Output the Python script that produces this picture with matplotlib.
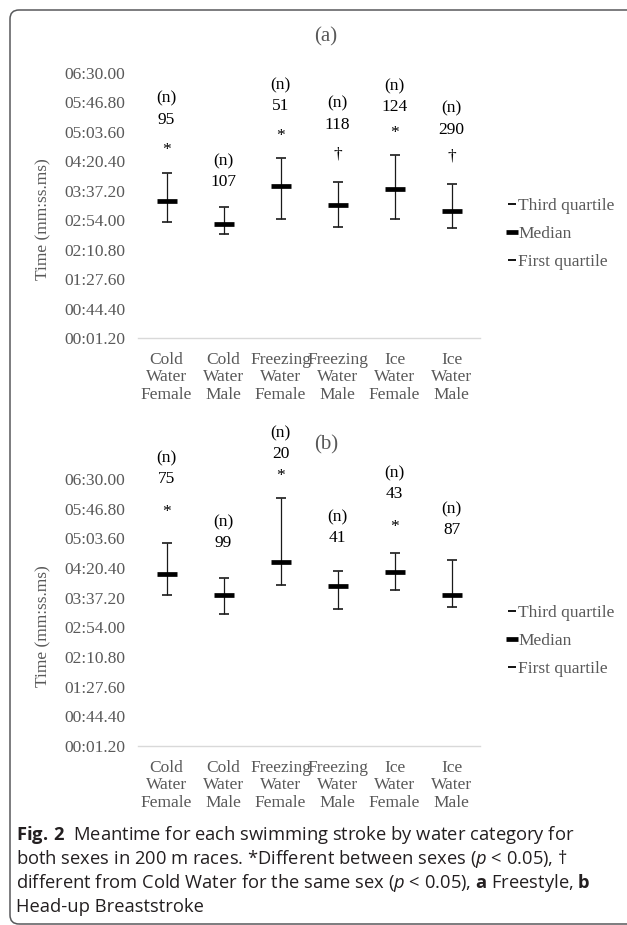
import matplotlib
matplotlib.use("Agg")
import matplotlib.pyplot as plt
from matplotlib.lines import Line2D
from matplotlib.patches import FancyBboxPatch
from matplotlib.transforms import IdentityTransform
import numpy as np

# categories on the x axis
cats = ["Cold\nWater\nFemale", "Cold\nWater\nMale", "Freezing\nWater\nFemale",
        "Freezing\nWater\nMale", "Ice\nWater\nFemale", "Ice\nWater\nMale"]

# (a) freestyle, times in seconds
a_q1 = [172.0, 154.0, 175.8, 164.6, 175.8, 162.5]
a_med = [202.3, 168.3, 223.7, 196.0, 219.8, 188.2]
a_q3 = [243.7, 193.3, 264.6, 230.6, 269.3, 227.5]
a_n = [95, 107, 51, 118, 124, 290]
a_sig = ["*", "", "*", "\u2020", "*", "\u2020"]

# (b) head-up breaststroke, times in seconds
b_q1 = [220.9, 193.2, 235.0, 201.4, 228.2, 203.4]
b_med = [251.5, 220.9, 268.5, 234.0, 254.9, 221.8]
b_q3 = [296.2, 245.7, 362.3, 255.9, 281.6, 271.4]
b_n = [75, 99, 20, 41, 43, 87]
b_sig = ["*", "", "*", "", "*", ""]

yticks = [1.2 + 43.2 * k for k in range(10)]

# label placement above the whisker (pixels), hand placed like the original
a_cnt_off = [53, 25, 52, 57, 48, 54]
a_sig_off = [23, 0, 22, 27, 22, 27]
b_cnt_off = [64, 35, 44, 33, 59, 30]
b_sig_off = [31, 0, 22, 0, 26, 0]

SERIF = "Liberation Serif"
GREY = "#595959"
W, H = 627, 925

plt.rcParams["mathtext.fontset"] = "custom"
plt.rcParams["mathtext.rm"] = "Open Sans"
plt.rcParams["mathtext.bf"] = "Open Sans:bold"
plt.rcParams["mathtext.it"] = "Open Sans:italic"


def mmss(v, pos=None):
    c = int(round(v * 100))
    m = c // 6000
    r = c % 6000
    return "%02d:%02d.%02d" % (m, r // 100, r % 100)


def px_rect(left, top, right, bottom):
    return [left / W, 1 - bottom / H, (right - left) / W, (bottom - top) / H]


def draw_panel(ax, q1, med, q3, n, sig, cnt_off, sig_off):
    x = np.arange(len(cats))
    q1 = np.array(q1); med = np.array(med); q3 = np.array(q3)
    ax.errorbar(x, med, yerr=[med - q1, q3 - med], fmt="none", ecolor="#1a1a1a",
                elinewidth=0.9, capsize=3.3, capthick=1.2)
    ax.plot(x, med, ls="none", marker="_", ms=15, mew=3.4, color="black")

    for i in range(len(x)):
        ax.annotate(str(n[i]), (x[i], q3[i]), xytext=(0, cnt_off[i]),
                    textcoords="offset pixels", ha="center", va="center",
                    fontsize=12.5, family=SERIF, annotation_clip=False)
        ax.annotate("(n)", (x[i], q3[i]), xytext=(0, cnt_off[i] + 21),
                    textcoords="offset pixels", ha="center", va="center",
                    fontsize=12.5, family=SERIF, annotation_clip=False)
        if sig[i]:
            ax.annotate(sig[i], (x[i], q3[i]), xytext=(0, sig_off[i]),
                        textcoords="offset pixels", ha="center", va="center",
                        fontsize=12.5, family=SERIF, annotation_clip=False)

    ax.set_xlim(-0.5, len(cats) - 0.5)
    ax.set_ylim(yticks[0], yticks[-1])
    ax.set_yticks(yticks)
    ax.yaxis.set_major_formatter(plt.FuncFormatter(mmss))
    ax.set_xticks(x)
    ax.set_xticklabels(cats, linespacing=1.12)
    for s in ["top", "right", "left"]:
        ax.spines[s].set_visible(False)
    ax.spines["bottom"].set_color("#d9d9d9")
    ax.spines["bottom"].set_linewidth(1.0)
    ax.tick_params(axis="y", length=0, pad=9, labelsize=12.5, labelcolor=GREY)
    ax.tick_params(axis="x", length=0, pad=10, labelsize=12.5, labelcolor=GREY)
    for t in ax.get_xticklabels() + ax.get_yticklabels():
        t.set_family(SERIF)
    ax.set_ylabel("Time (mm:ss.ms)", family=SERIF, fontsize=12.5, color=GREY)
    ax.yaxis.set_label_coords(-0.254, 0.45)

    handles = [Line2D([], [], ls="none", marker="_", ms=6, mew=1.3, color="black"),
               Line2D([], [], ls="none", marker="_", ms=8, mew=3.4, color="black"),
               Line2D([], [], ls="none", marker="_", ms=6, mew=1.3, color="black")]
    leg = ax.legend(handles, ["Third quartile", "Median", "First quartile"],
                    loc="center left", bbox_to_anchor=(1.055, 0.392), frameon=False,
                    numpoints=1, handlelength=0.5, handletextpad=0.12,
                    labelspacing=0.68, borderpad=0,
                    prop={"family": SERIF, "size": 12.5})
    for t in leg.get_texts():
        t.set_color(GREY)


fig = plt.figure(figsize=(W / 100, H / 100), dpi=100)

ax_a = fig.add_axes(px_rect(138, 73, 480, 338))
draw_panel(ax_a, a_q1, a_med, a_q3, a_n, a_sig, a_cnt_off, a_sig_off)
ax_b = fig.add_axes(px_rect(138, 479, 480, 746))
draw_panel(ax_b, b_q1, b_med, b_q3, b_n, b_sig, b_cnt_off, b_sig_off)

fig.text(326 / W, 1 - 37 / H, "(a)", ha="center", va="center", family=SERIF,
         fontsize=15, color=GREY)
fig.text(326 / W, 1 - 445 / H, "(b)", ha="center", va="center", family=SERIF,
         fontsize=15, color=GREY)

# caption
caption = [r"$\mathbf{Fig.\,2}$  Meantime for each swimming stroke by water category for",
           r"both sexes in 200 m races. *Different between sexes ($\mathit{p}$ < 0.05), " + "\u2020",
           r"different from Cold Water for the same sex ($\mathit{p}$ < 0.05), $\mathbf{a}$ Freestyle, $\mathbf{b}$",
           "Head-up Breaststroke"]
cap_y = [835, 859, 883, 907]
for line, yy in zip(caption, cap_y):
    fig.text(16 / W, 1 - yy / H, line, ha="left", va="center", family="Open Sans",
             fontsize=13.2, color="#231f20")

# frame round the figure, its right edge runs off the picture
frame = FancyBboxPatch((10, 1), 660, H - 11,
                       boxstyle="round,pad=0,rounding_size=9",
                       transform=IdentityTransform(), fill=False,
                       edgecolor="#58595b", linewidth=1.1, clip_on=False)
fig.patches.append(frame)

fig.savefig("out.png", dpi=100)
